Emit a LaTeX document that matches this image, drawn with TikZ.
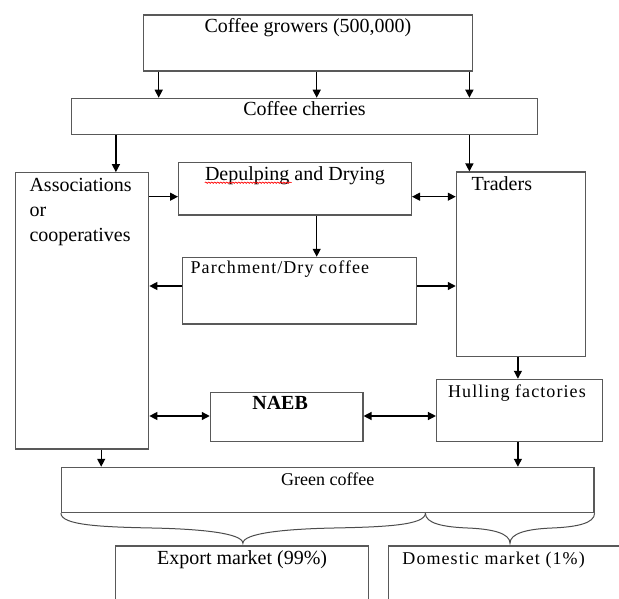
\documentclass[tikz,border=0pt]{standalone}
\usepackage{fontspec}
\setmainfont{Liberation Serif}
\newfontfamily\spacedfont[LetterSpace=6]{Liberation Serif}
\usetikzlibrary{arrows.meta,decorations.pathmorphing}

\tikzset{
  box/.style={draw=black!65, line width=1.1pt, rectangle, inner sep=0pt},
  flow/.style={-{Triangle[length=8pt,width=8pt]}, line width=1.3pt},
  twoway/.style={{Triangle[length=8pt,width=8pt]}-{Triangle[length=8pt,width=8pt]}, line width=1.3pt},
  txt/.style={anchor=base, inner sep=0pt, font=\fontsize{20}{25}\selectfont},
  sptxt/.style={txt, font=\fontsize{18}{22}\spacedfont},
  brace/.style={draw=black!70, line width=1pt},
}

\begin{document}
\begin{tikzpicture}[x=1pt, y=-1pt]
  \clip (0,0) rectangle (619,599);

  % Define nodes
  \node[box, minimum width=328.5pt, minimum height=56pt] (growers) at (308,43) {};
  \node[box, minimum width=466.3pt, minimum height=36pt] (cherries) at (304.5,116.3) {};
  \node[box, minimum width=132.9pt, minimum height=276.3pt] (assoc) at (82.35,310.85) {};
  \node[box, minimum width=232.9pt, minimum height=52.3pt] (depulp) at (295,188.85) {};
  \node[box, minimum width=129pt, minimum height=184.7pt] (traders) at (520.8,264.35) {};
  \node[box, minimum width=234.2pt, minimum height=66.7pt] (parch) at (299.6,290.65) {};
  \node[box, minimum width=165.9pt, minimum height=62.4pt] (hulling) at (519.45,410.5) {};
  \node[box, minimum width=152.7pt, minimum height=49.4pt] (naeb) at (286.65,417) {};
  \node[box, minimum width=532.5pt, minimum height=45.4pt] (green) at (327.75,490) {};
  \node[box, minimum width=252.4pt, minimum height=84pt] (export) at (242.1,588) {};
  \node[box, minimum width=271.1pt, minimum height=84pt] (domestic) at (524.45,588) {};

  % Texts
  \node[txt] (growerstxt) at ([yshift=-18pt]growers.north) {Coffee growers (500,000)};
  \node[txt] (cherriestxt) at ([yshift=-18pt]cherries.north) {Coffee cherries};
  \node[txt, anchor=base west, align=left] (assoctxt) at ([xshift=14pt, yshift=-69pt]assoc.north west) {Associations\\or\\cooperatives};
  \node[txt] (depulptxt) at ([yshift=-18pt]depulp.north) {Depulping and Drying};
  \node[txt, anchor=base west] (traderstxt) at ([xshift=15.7pt, yshift=-19.5pt]traders.north west) {Traders};
  \node[sptxt, anchor=base west] (parchtxt) at ([xshift=8.5pt, yshift=-17pt]parch.north west) {Parchment/Dry coffee};
  \node[sptxt] (hullingtxt) at ([xshift=-2.5pt, yshift=-18.5pt]hulling.north) {Hulling factories};
  \node[txt, font=\fontsize{20}{25}\selectfont\bfseries] (naebtxt) at ([xshift=-6.5pt, yshift=-17.7pt]naeb.north) {NAEB};
  \node[txt, font=\fontsize{18}{22}\selectfont] (greentxt) at ([yshift=-18.7pt]green.north) {Green coffee};
  \node[txt] (exporttxt) at ([yshift=-19.5pt]export.north) {Export market (99\%)};
  \node[sptxt, anchor=base west] (domestictxt) at ([xshift=13.9pt, yshift=-19.5pt]domestic.north west) {Domestic market (1\%)};

  % Spelling squiggle
  \draw[red, line width=0.6pt, decorate, decoration={snake, amplitude=0.7pt, segment length=3pt}]
    ([yshift=-2.5pt]depulptxt.base west) -- ([xshift=87pt, yshift=-2.5pt]depulptxt.base west);

  % Connect the nodes
  \foreach \x in {158.7, 316.7, 469.4}
    \draw[flow] (growers.south -| \x,0) -- (cherries.north -| \x,0);
  \draw[flow] (cherries.south -| 115.9,0) -- (assoc.north -| 115.9,0);
  \draw[flow] (cherries.south -| 469.4,0) -- (traders.north -| 469.4,0);
  \draw[flow] (assoc.east |- 0,196.7) -- (depulp.west |- 0,196.7);
  \draw[twoway] (depulp.east |- 0,196.7) -- (traders.west |- 0,196.7);
  \draw[flow] (depulp.south -| 316.7,0) -- (parch.north -| 316.7,0);
  \draw[flow] (parch.west |- 0,286) -- (assoc.east |- 0,286);
  \draw[flow] (parch.east |- 0,286) -- (traders.west |- 0,286);
  \draw[flow] (traders.south -| 517.9,0) -- (hulling.north -| 517.9,0);
  \draw[twoway] (assoc.east |- 0,416) -- (naeb.west |- 0,416);
  \draw[twoway] (naeb.east |- 0,416) -- (hulling.west |- 0,416);
  \draw[flow] (assoc.south -| 101.2,0) -- (green.north -| 101.2,0);
  \draw[flow] (hulling.south -| 517.9,0) -- (green.north -| 517.9,0);

  % Braces
  \coordinate (split) at (green.south -| 425.4,0);
  \coordinate (tipA) at (242.9,543.3);
  \coordinate (tipB) at (510,543.3);
  \draw[brace] (green.south west) .. controls +(0,12) and +(-50,-1) .. (152,528)
    .. controls +(50,1) and +(0,-10) .. (tipA)
    .. controls +(0,-10) and +(-50,1) .. (334,528)
    .. controls +(50,-1) and +(0,12) .. (split);
  \draw[brace] (split) .. controls +(0,10) and +(-25,-1) .. (467.7,528)
    .. controls +(25,1) and +(0,-10) .. (tipB)
    .. controls +(0,-10) and +(-25,1) .. (552,528)
    .. controls +(25,-1) and +(0,10) .. (green.south east);
\end{tikzpicture}
\end{document}
